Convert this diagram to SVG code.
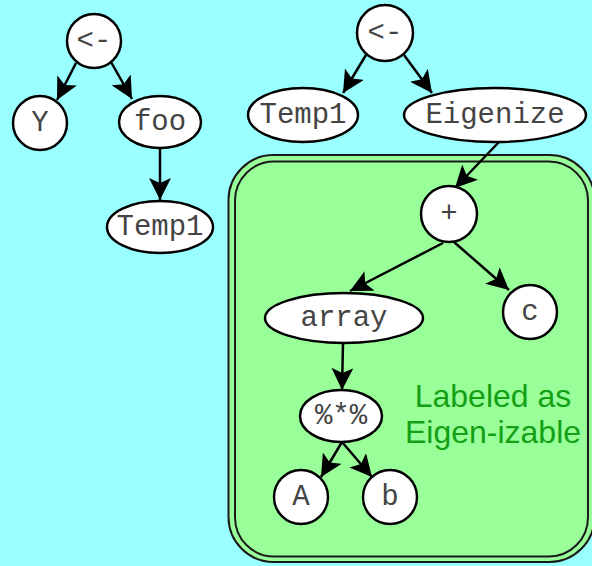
<svg xmlns="http://www.w3.org/2000/svg" width="592" height="566" viewBox="0 0 592 566">
<defs>
<style>
.node ellipse, .node circle { fill: #ffffff; stroke: #000000; stroke-width: 2.5; }
.node text { font-family: "Liberation Mono", "Courier New", monospace; font-size: 29px; fill: #444444; text-anchor: middle; }
.edges line { stroke: #000000; stroke-width: 2.5; marker-end: url(#arrow); }
.box { fill: none; stroke: #1a1a1a; stroke-width: 2; }
.label { font-family: "Liberation Sans", Arial, sans-serif; font-size: 32px; fill: #14a014; text-anchor: middle; }
</style>
<marker id="arrow" markerUnits="userSpaceOnUse" markerWidth="22" markerHeight="22" viewBox="0 0 22 22" refX="22" refY="11" orient="auto">
<path d="M0,0 L22,11 L0,22 L5,11 z" fill="#000000"/>
</marker>
</defs>
<rect x="0" y="0" width="592" height="566" fill="#99ffff"/>
<g id="cluster">
<rect x="228.5" y="155" width="366" height="407" rx="45" ry="45" fill="#99ff99" stroke="#1a1a1a" stroke-width="2"/>
<rect class="box" x="235" y="161.5" width="353" height="395" rx="39" ry="39"/>
<text class="label" x="493" y="407">Labeled as</text>
<text class="label" x="493" y="443">Eigen-izable</text>
</g>
<g class="edges" id="connectors">
<line x1="76" y1="63" x2="57" y2="100"/>
<line x1="111" y1="62" x2="132" y2="99"/>
<line x1="160" y1="148" x2="160" y2="200"/>
<line x1="366" y1="55" x2="343" y2="93"/>
<line x1="404" y1="55" x2="432" y2="93"/>
<line x1="499" y1="142" x2="455" y2="188"/>
<line x1="443" y1="243" x2="350" y2="291"/>
<line x1="454" y1="242" x2="509" y2="290"/>
<line x1="343" y1="343" x2="342" y2="390"/>
<line x1="342" y1="442" x2="321" y2="477"/>
<line x1="342" y1="442" x2="372" y2="477"/>
</g>
<g class="node" id="assign1"><circle cx="94" cy="41" r="27"/><text x="94" y="49">&lt;-</text></g>
<g class="node" id="Y"><circle cx="40" cy="123" r="27"/><text x="40" y="131">Y</text></g>
<g class="node" id="foo"><ellipse cx="160" cy="122" rx="41" ry="26"/><text x="160" y="130">foo</text></g>
<g class="node" id="temp1a"><ellipse cx="160" cy="227" rx="53" ry="26"/><text x="160" y="235">Temp1</text></g>
<g class="node" id="assign2"><circle cx="385" cy="33" r="28"/><text x="385" y="41">&lt;-</text></g>
<g class="node" id="temp1b"><ellipse cx="303" cy="115" rx="55" ry="27"/><text x="303" y="123">Temp1</text></g>
<g class="node" id="eigenize"><ellipse cx="495" cy="115" rx="91" ry="27"/><text x="495" y="123">Eigenize</text></g>
<g class="node" id="plus"><circle cx="449" cy="214" r="28"/><text x="449" y="222">+</text></g>
<g class="node" id="array"><ellipse cx="344" cy="318" rx="79" ry="25"/><text x="344" y="326">array</text></g>
<g class="node" id="c"><circle cx="530" cy="312" r="27"/><text x="530" y="320">c</text></g>
<g class="node" id="matmul"><ellipse cx="341" cy="416" rx="41" ry="26"/><text x="341" y="424">%*%</text></g>
<g class="node" id="A"><circle cx="301" cy="497" r="27"/><text x="301" y="505">A</text></g>
<g class="node" id="b"><circle cx="390" cy="497" r="27"/><text x="390" y="505">b</text></g>
</svg>
